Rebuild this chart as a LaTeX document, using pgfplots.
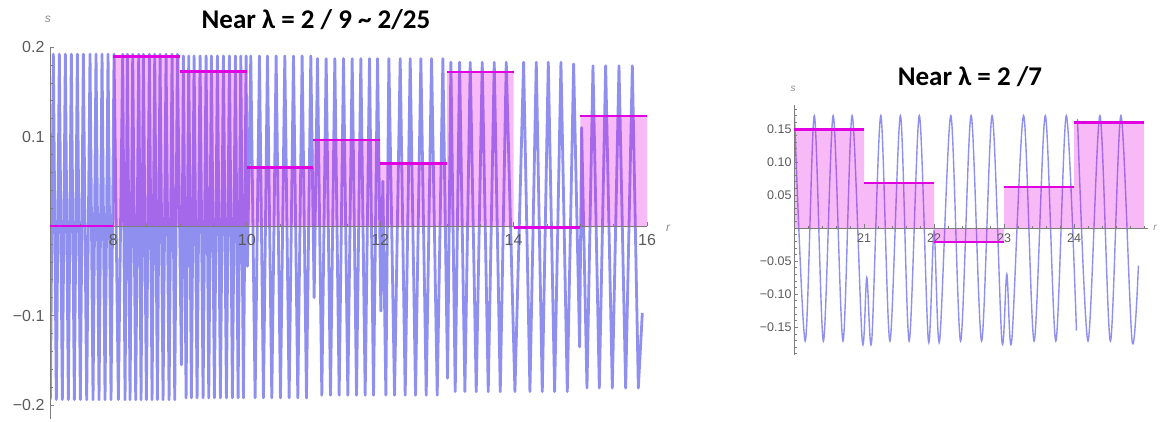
\documentclass[border=0pt]{standalone}
\usepackage{fontspec}
\usepackage{pgfplots}
\pgfplotsset{compat=1.18}
\setmainfont{Liberation Sans}
\newfontfamily\titlefont{Carlito}
\newfontfamily\tickfont{Liberation Sans}

\definecolor{wave}{RGB}{143,143,240}
\definecolor{stepm}{RGB}{225,0,225}
\definecolor{axgray}{RGB}{125,125,125}
\definecolor{tickgray}{RGB}{90,90,90}
\definecolor{lblgray}{RGB}{140,140,140}

\pgfplotsset{
  mma/.style={
    scale only axis, axis on top,
    axis x line=middle, axis y line=left,
    axis line style={-, draw=axgray, line width=0.8pt},
    tick align=inside,
    major tick length=4pt, minor tick length=2.5pt,
    every tick/.style={axgray, line width=0.6pt},
    tick label style={text=tickgray},
  },
  steps/.style={stepm, line width=2.8pt, unbounded coords=jump},
  leftbox/.style={at={(50pt,2pt)}, anchor=south west, scale only axis,
    width=597pt, height=372pt, xmin=7.05, xmax=16, ymin=-0.2156, ymax=0.2},
  rightbox/.style={at={(794pt,66pt)}, anchor=south west, scale only axis,
    width=353.5pt, height=250pt, xmin=20, xmax=25.05, ymin=-0.192, ymax=0.186},
}

\begin{document}
\begin{tikzpicture}
\path[use as bounding box] (0,0) rectangle (1160pt,421pt);

% ---------------- left panel ----------------
\begin{axis}[mma, leftbox,
  xtick={8,10,12,14,16}, xticklabels={8,10,12,14,16},
  minor xtick={7.5,8.5,9,9.5,10.5,11,11.5,12.5,13,13.5,14.5,15,15.5},
  ytick={-0.2,-0.1,0.1,0.2}, yticklabels={−0.2,−0.1,0.1,0.2},
  minor ytick={-0.2,-0.18,-0.16,-0.14,-0.12,-0.1,-0.08,-0.06,-0.04,-0.02,0.02,0.04,0.06,0.08,0.1,0.12,0.14,0.16,0.18,0.2},
  xticklabel style={font=\tickfont\fontsize{16}{16}\selectfont, yshift=-5pt},
  yticklabel style={font=\tickfont\fontsize{16}{16}\selectfont, xshift=-2pt},
]
\addplot[wave, line width=2.8pt, line join=round] coordinates {
(7.055,-0.194)
(7.10,0.192)(7.145,-0.194)(7.19,0.192)(7.235,-0.194)(7.28,0.192)(7.325,-0.194)
(7.37,0.192)(7.415,-0.194)(7.46,0.192)(7.505,-0.194)(7.55,0.192)(7.60,-0.194)
(7.65,0.192)(7.695,-0.194)(7.74,0.192)(7.785,-0.194)(7.83,0.192)(7.875,-0.194)
(7.92,0.192)(7.965,-0.194)(8.01,0.192)(8.075,-0.194)(8.14,0.192)(8.175,-0.194)
(8.21,0.192)(8.25,-0.194)(8.29,0.192)(8.335,-0.194)(8.38,0.192)(8.415,-0.194)
(8.45,0.192)(8.495,-0.194)(8.54,0.192)(8.58,-0.194)(8.62,0.192)(8.66,-0.194)
(8.70,0.192)(8.745,-0.194)(8.79,0.192)(8.835,-0.194)(8.88,0.192)(8.92,-0.194)
(8.96,0.192)(9.02,-0.155)
(9.05,0.19)(9.09,-0.192)(9.13,0.19)(9.17,-0.192)(9.21,0.19)(9.255,-0.192)
(9.30,0.19)(9.345,-0.192)(9.39,0.19)(9.43,-0.192)(9.47,0.19)(9.515,-0.192)
(9.56,0.19)(9.605,-0.192)(9.65,0.19)(9.695,-0.192)(9.74,0.19)(9.785,-0.192)
(9.83,0.19)(9.87,-0.192)(9.91,0.19)(9.95,-0.192)(9.99,0.19)(10.01,-0.045)
(10.06,0.19)(10.125,-0.192)(10.19,0.19)(10.25,-0.192)(10.31,0.19)(10.375,-0.192)
(10.44,0.19)(10.505,-0.192)(10.57,0.19)(10.635,-0.192)(10.70,0.19)(10.765,-0.192)
(10.83,0.19)(10.895,-0.192)(10.96,0.19)(11.01,-0.08)
(11.06,0.187)(11.125,-0.189)(11.19,0.187)(11.255,-0.189)(11.32,0.187)(11.385,-0.189)
(11.45,0.187)(11.515,-0.189)(11.58,0.187)(11.645,-0.189)(11.71,0.187)(11.775,-0.189)
(11.84,0.187)(11.90,-0.189)(11.96,0.187)(12.01,-0.095)
(12.04,0.05)(12.085,-0.189)(12.13,0.187)(12.215,-0.189)(12.30,0.187)(12.375,-0.189)
(12.45,0.187)(12.53,-0.189)(12.61,0.187)(12.69,-0.189)(12.77,0.187)(12.855,-0.189)
(12.94,0.187)(13.01,-0.17)
(13.06,0.183)(13.125,-0.185)(13.19,0.183)(13.27,-0.185)(13.35,0.183)(13.44,-0.185)
(13.53,0.183)(13.62,-0.185)(13.71,0.183)(13.80,-0.185)(13.89,0.183)(14.02,-0.185)
(14.15,0.183)(14.245,-0.185)(14.34,0.183)(14.43,-0.185)(14.52,0.183)(14.615,-0.185)
(14.71,0.183)(14.805,-0.185)(14.90,0.181)(14.99,-0.135)
(15.02,0.11)(15.10,-0.181)(15.19,0.179)(15.285,-0.181)(15.38,0.179)(15.48,-0.181)
(15.58,0.179)(15.68,-0.181)(15.78,0.179)(15.87,-0.181)(15.93,-0.097)
};
% averaged value over each unit interval
\addplot[draw=none, fill=stepm, fill opacity=0.27] coordinates {
(7.05,0)(8,0)(8,0.189)(9,0.189)(9,0.173)(10,0.173)(10,0.065)(11,0.065)
(11,0.096)(12,0.096)(12,0.070)(13,0.070)(13,0.172)(14,0.172)(14,-0.0015)
(15,-0.0015)(15,0.123)(16,0.123)(16,0)
};
\end{axis}
% step levels, drawn above the axis lines
\begin{axis}[leftbox, hide axis]
\addplot[steps] coordinates {
(7.05,0)(8,0)(8,nan)
(8,0.189)(9,0.189)(9,nan)
(9,0.173)(10,0.173)(10,nan)
(10,0.065)(11,0.065)(11,nan)
(11,0.096)(12,0.096)(12,nan)
(12,0.070)(13,0.070)(13,nan)
(13,0.172)(14,0.172)(14,nan)
(14,-0.0015)(15,-0.0015)(15,nan)
(15,0.123)(16,0.123)
};
\end{axis}

% ---------------- right panel ----------------
\begin{axis}[mma, rightbox,
  xtick={21,22,23,24}, xticklabels={21,22,23,24},
  minor xtick={20.2,20.4,20.6,20.8,21.2,21.4,21.6,21.8,22.2,22.4,22.6,22.8,23.2,23.4,23.6,23.8,24.2,24.4,24.6,24.8,25},
  ytick={-0.15,-0.1,-0.05,0.05,0.1,0.15},
  yticklabels={−0.15,−0.10,−0.05,0.05,0.10,0.15},
  minor ytick={-0.19,-0.18,-0.17,-0.16,-0.14,-0.13,-0.12,-0.11,-0.09,-0.08,-0.07,-0.06,-0.04,-0.03,-0.02,-0.01,0.01,0.02,0.03,0.04,0.06,0.07,0.08,0.09,0.11,0.12,0.13,0.14,0.16,0.17,0.18},
  xticklabel style={font=\tickfont\fontsize{12.5}{12.5}\selectfont, yshift=-2pt},
  yticklabel style={font=\tickfont\fontsize{12.5}{12.5}\selectfont, xshift=1pt},
]
\addplot[wave, line width=1.4pt, smooth] coordinates {
(20.005,0.175)(20.16,-0.171)(20.29,0.17)(20.42,-0.171)(20.56,0.17)(20.70,-0.171)
(20.83,0.17)(20.975,-0.171)(21.04,-0.075)(21.11,-0.171)(21.24,0.17)(21.37,-0.171)
(21.52,0.17)(21.645,-0.171)(21.79,0.17)(21.92,-0.171)(22.0,-0.005)(22.08,-0.171)
(22.24,0.17)(22.38,-0.171)(22.53,0.17)(22.68,-0.171)(22.83,0.17)(22.97,-0.171)
(23.04,-0.07)(23.11,-0.171)(23.28,0.17)(23.43,-0.171)(23.59,0.17)(23.74,-0.171)
(23.89,0.17)(24.035,-0.155)
};
\addplot[wave, line width=1.4pt, smooth] coordinates {
(24.05,0.165)(24.2,-0.171)(24.37,0.17)(24.52,-0.171)(24.67,0.17)(24.83,-0.171)
(24.92,-0.057)
};
\addplot[draw=none, fill=stepm, fill opacity=0.27] coordinates {
(20,0)(20,0.149)(21,0.149)(21,0.068)(22,0.068)(22,-0.021)(23,-0.021)
(23,0.062)(24,0.062)(24,0.160)(25,0.160)(25,0)
};
\end{axis}
\begin{axis}[rightbox, hide axis]
\addplot[steps] coordinates {
(20,0.149)(21,0.149)(21,nan)
(21,0.068)(22,0.068)(22,nan)
(22,-0.021)(23,-0.021)(23,nan)
(23,0.062)(24,0.062)(24,nan)
(24,0.160)(25,0.160)
};
\end{axis}

% titles and axis names
\node[font=\titlefont\bfseries\fontsize{27}{30}\selectfont] at (316pt,401pt)
  {Near λ = 2 / 9 \textasciitilde\ 2/25};
\node[font=\titlefont\bfseries\fontsize{27}{30}\selectfont] at (970pt,344pt)
  {Near λ = 2 /7};
\node[text=lblgray, font=\fontsize{12}{12}\selectfont\itshape] at (48pt,402pt) {s};
\node[text=lblgray, font=\fontsize{12}{12}\selectfont\itshape] at (668pt,193pt) {r};
\node[text=lblgray, font=\fontsize{10}{10}\selectfont\itshape] at (793pt,332pt) {s};
\node[text=lblgray, font=\fontsize{10}{10}\selectfont\itshape] at (1155pt,193pt) {r};
\end{tikzpicture}
\end{document}
